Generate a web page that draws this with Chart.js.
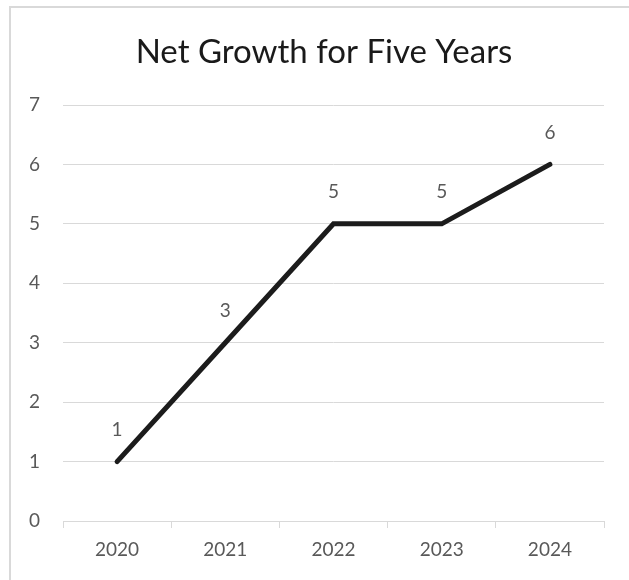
<!DOCTYPE html>
<html>
<head>
<meta charset="utf-8">
<script src="https://cdn.jsdelivr.net/npm/chart.js@4"></script>
<style>
  html, body { margin: 0; padding: 0; background: #fff; overflow: hidden; }
  #wrap { position: relative; width: 629px; height: 580px; overflow: hidden; }
  #frame { position: absolute; left: 9px; top: 6px; width: 700px; height: 700px;
           border-left: 2px solid #d9d9d9; border-top: 2px solid #d9d9d9; }
  #growthChart { position: absolute; left: 0; top: 0; }
</style>
</head>
<body>
<div id="wrap">
  <div id="frame"></div>
  <canvas id="growthChart" width="629" height="580"></canvas>
</div>
<script>
const years = ['2020', '2021', '2022', '2023', '2024'];
const netGrowth = [1, 3, 5, 5, 6];
const chartTitle = 'Net Growth for Five Years';

const fontFamily = 'Lato, "Open Sans", sans-serif';
const labelGrey = '#595959';

// value labels above each point + the title, centred on the chart frame
const valueLabels = {
  id: 'valueLabels',
  afterDatasetsDraw(chart) {
    const ctx = chart.ctx;
    const meta = chart.getDatasetMeta(0);
    ctx.save();
    ctx.font = '19px ' + fontFamily;
    ctx.fillStyle = labelGrey;
    ctx.textAlign = 'center';
    ctx.textBaseline = 'middle';
    meta.data.forEach(function (pt, i) {
      ctx.fillText(String(netGrowth[i]), pt.x, pt.y - 32);
    });

    const t = chart.titleBlock;
    ctx.font = '33px ' + fontFamily;
    ctx.fillStyle = '#1a1a1a';
    ctx.fillText(chartTitle, 324, t.top + 32 + 20);
    ctx.restore();
  }
};

const ctx = document.getElementById('growthChart').getContext('2d');
const growthChart = new Chart(ctx, {
  type: 'line',
  data: {
    labels: years,
    datasets: [{
      label: 'Net Growth',
      data: netGrowth,
      borderColor: '#1c1c1c',
      borderWidth: 5,
      borderCapStyle: 'round',
      borderJoinStyle: 'miter',
      pointRadius: 0,
      pointHoverRadius: 0,
      tension: 0,
      fill: false
    }]
  },
  options: {
    responsive: false,
    animation: false,
    layout: { padding: { left: 0, right: 25, top: 0, bottom: 0 } },
    plugins: {
      legend: { display: false },
      tooltip: { enabled: false },
      title: {
        display: true,
        text: chartTitle,
        color: 'rgba(0,0,0,0)',
        font: { family: fontFamily, size: 30, weight: 'normal', lineHeight: 1.2 },
        padding: { top: 32, bottom: 37 }
      }
    },
    scales: {
      x: {
        offset: true,
        grid: {
          offset: true,
          drawOnChartArea: false,
          drawTicks: true,
          tickLength: 7,
          color: '#d9d9d9'
        },
        border: { display: true, color: '#d9d9d9', width: 1 },
        ticks: {
          color: labelGrey,
          font: { family: fontFamily, size: 19 },
          padding: 10,
          maxRotation: 0
        },
        afterFit: function (scale) { scale.height = 59; }
      },
      y: {
        min: 0,
        max: 7,
        ticks: {
          stepSize: 1,
          color: labelGrey,
          font: { family: fontFamily, size: 19 },
          padding: 23
        },
        grid: { color: '#d9d9d9', drawTicks: false },
        border: { display: false },
        afterFit: function (scale) { scale.width = 63; }
      }
    }
  },
  plugins: [valueLabels]
});
</script>
</body>
</html>
